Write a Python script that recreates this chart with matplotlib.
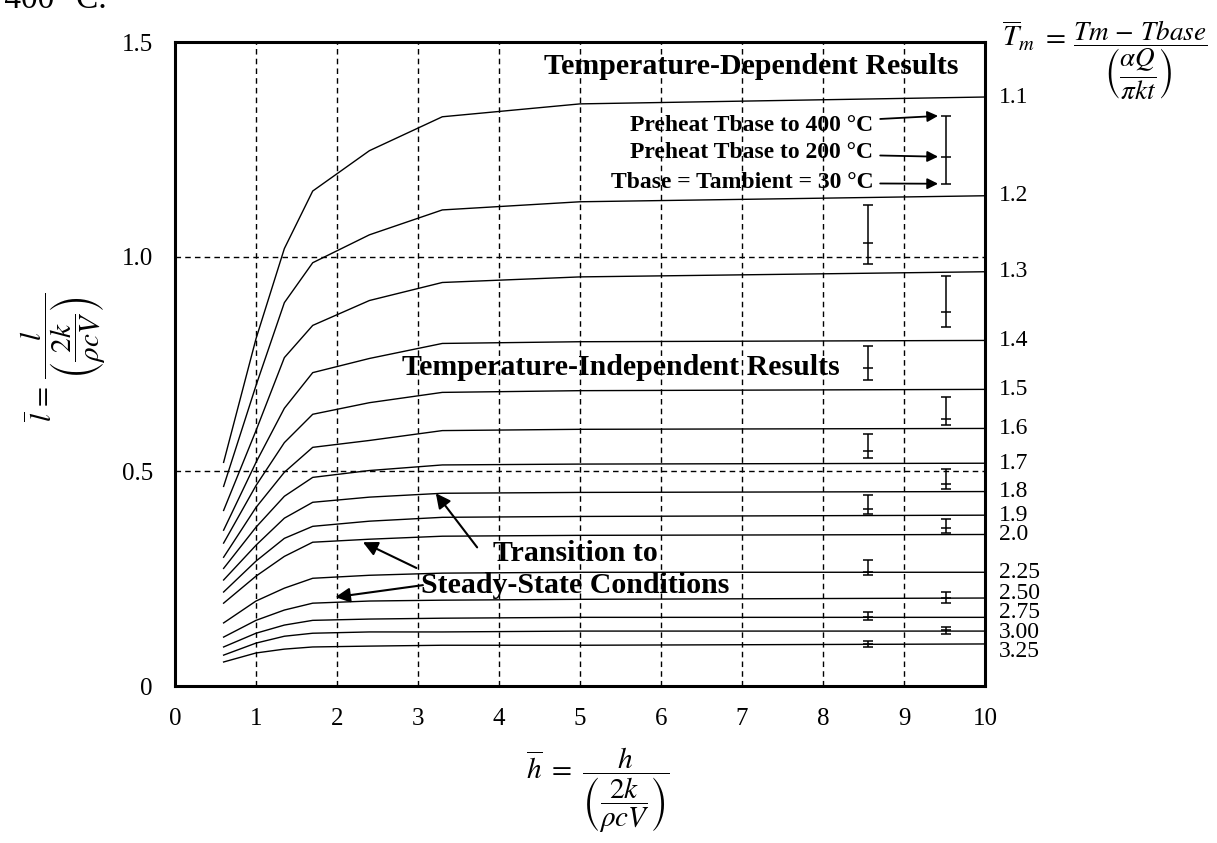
#!/usr/bin/env python3
"""Dimensionless bead length vs. dimensionless heat-transfer coefficient,
one curve per dimensionless melting temperature, with the temperature-dependent
results drawn as three-level error bars."""

import matplotlib
matplotlib.use("Agg")
import matplotlib.pyplot as plt

plt.rcParams["font.family"] = ["Liberation Serif", "DejaVu Serif"]
plt.rcParams["mathtext.fontset"] = "stix"

h_points = [0.6, 1.0, 1.35, 1.7, 2.4, 3.3, 5.0, 10.0]

# l-bar values, one list per Tm-bar curve
l_1_1 = [0.521, 0.809, 1.019, 1.153, 1.247, 1.326, 1.356, 1.372]
l_1_2 = [0.465, 0.700, 0.893, 0.986, 1.051, 1.109, 1.128, 1.142]
l_1_3 = [0.409, 0.595, 0.765, 0.840, 0.898, 0.940, 0.953, 0.965]
l_1_4 = [0.363, 0.521, 0.647, 0.730, 0.763, 0.798, 0.802, 0.805]
l_1_5 = [0.333, 0.467, 0.567, 0.633, 0.660, 0.684, 0.688, 0.691]
l_1_6 = [0.300, 0.416, 0.498, 0.556, 0.572, 0.595, 0.598, 0.600]
l_1_7 = [0.274, 0.370, 0.442, 0.486, 0.502, 0.515, 0.517, 0.519]
l_1_8 = [0.247, 0.328, 0.391, 0.428, 0.440, 0.449, 0.451, 0.453]
l_1_9 = [0.219, 0.291, 0.344, 0.372, 0.384, 0.393, 0.395, 0.398]
l_2_0 = [0.193, 0.256, 0.302, 0.335, 0.342, 0.349, 0.351, 0.353]
l_2_25 = [0.147, 0.198, 0.228, 0.251, 0.258, 0.263, 0.265, 0.265]
l_2_50 = [0.114, 0.153, 0.177, 0.193, 0.198, 0.200, 0.202, 0.205]
l_2_75 = [0.091, 0.123, 0.142, 0.153, 0.156, 0.158, 0.160, 0.160]
l_3_00 = [0.072, 0.100, 0.116, 0.123, 0.126, 0.126, 0.128, 0.128]
l_3_25 = [0.056, 0.077, 0.086, 0.091, 0.093, 0.095, 0.095, 0.098]

curves = [l_1_1, l_1_2, l_1_3, l_1_4, l_1_5, l_1_6, l_1_7, l_1_8,
          l_1_9, l_2_0, l_2_25, l_2_50, l_2_75, l_3_00, l_3_25]
tm_labels = ["1.1", "1.2", "1.3", "1.4", "1.5", "1.6", "1.7", "1.8",
             "1.9", "2.0", "2.25", "2.50", "2.75", "3.00", "3.25"]

# temperature-dependent results: 400 C (high), 200 C (mid), 30 C (low)
bar_h = [9.52, 8.55, 9.52, 8.55, 9.52, 8.55, 9.52, 8.55, 9.52, 8.55, 9.52, 8.55, 9.52, 8.55]
bar_high = [1.328, 1.121, 0.956, 0.793, 0.674, 0.588, 0.505, 0.444, 0.388, 0.293, 0.219, 0.172, 0.137, 0.105]
bar_mid = [1.233, 1.033, 0.872, 0.740, 0.623, 0.547, 0.470, 0.412, 0.367, 0.265, 0.205, 0.160, 0.130, 0.098]
bar_low = [1.170, 0.984, 0.837, 0.714, 0.607, 0.530, 0.458, 0.400, 0.356, 0.258, 0.193, 0.153, 0.121, 0.091]

x_ticks = [0, 1, 2, 3, 4, 5, 6, 7, 8, 9, 10]
y_ticks = [0, 0.5, 1.0, 1.5]
y_tick_labels = ["0", "0.5", "1.0", "1.5"]

fig = plt.figure(figsize=(12.17, 8.43), dpi=100)
ax = fig.add_axes([0.1438, 0.1862, 0.6656, 0.7639])

for vals in curves:
    ax.plot(h_points, vals, color="k", lw=1.0)

ax.errorbar(bar_h, bar_mid,
            yerr=[[m - lo for m, lo in zip(bar_mid, bar_low)],
                  [hi - m for m, hi in zip(bar_mid, bar_high)]],
            fmt="_", color="k", ms=7.5, mew=1.1, elinewidth=1.1,
            capsize=3.7, capthick=1.1, zorder=3)

ax.set_xlim(0, 10)
ax.set_ylim(0, 1.5)
ax.set_xticks(x_ticks)
ax.set_xticklabels([str(t) for t in x_ticks])
ax.set_yticks(y_ticks)
ax.set_yticklabels(y_tick_labels)
ax.tick_params(length=0, labelsize=18)
ax.tick_params(axis="x", pad=16)
ax.tick_params(axis="y", pad=16)
for s in ax.spines.values():
    s.set_linewidth(2.2)

# dashed reference grid (inner lines only)
for t in x_ticks[1:-1]:
    ax.axvline(t, color="k", lw=1.0, ls=(0, (4, 3)), zorder=1)
for t in y_ticks[1:-1]:
    ax.axhline(t, color="k", lw=1.0, ls=(0, (4, 3)), zorder=1)

# Tm-bar labels at the right end of each curve, spread apart where crowded
label_y = [vals[-1] for vals in curves]
min_gap = 0.045
for _ in range(200):
    for i in range(len(label_y) - 1):
        gap = label_y[i] - label_y[i + 1]
        if gap < min_gap:
            push = (min_gap - gap) / 2
            label_y[i] += push
            label_y[i + 1] -= push
for lab, y in zip(tm_labels, label_y):
    ax.text(10.17, y, lab, fontsize=17, ha="left", va="center", clip_on=False)

bold = dict(fontweight="bold", fontsize=21.5)
ax.text(7.11, 1.444, "Temperature-Dependent Results", ha="center", va="center", **bold)
ax.text(5.51, 0.742, "Temperature-Independent Results", ha="center", va="center", **bold)
ax.text(4.94, 0.272, "Transition to\nSteady-State Conditions", ha="center", va="center",
        multialignment="center", linespacing=1.22, **bold)

arrow = dict(arrowstyle="-|>", color="k", lw=1.5, mutation_scale=22, shrinkA=0, shrinkB=0)
ax.annotate("", xy=(3.22, 0.449), xytext=(3.73, 0.323), arrowprops=arrow)
ax.annotate("", xy=(2.32, 0.335), xytext=(2.98, 0.275), arrowprops=arrow)
ax.annotate("", xy=(1.98, 0.207), xytext=(3.06, 0.235), arrowprops=arrow)

# legend-like callouts for the three base temperatures
callouts = ["Preheat Tbase to 400 °C", "Preheat Tbase to 200 °C", "Tbase = Tambient = 30 °C"]
text_y = [1.305, 1.242, 1.172]
targets = [bar_high[0], bar_mid[0], bar_low[0]]
small_arrow = dict(arrowstyle="-|>", color="k", lw=1.3, mutation_scale=16, shrinkA=3, shrinkB=0)
for txt, ty, tgt in zip(callouts, text_y, targets):
    ax.annotate(txt, xy=(bar_h[0] - 0.1, tgt), xytext=(8.62, ty),
                ha="right", va="center", fontsize=17, fontweight="bold",
                arrowprops=small_arrow)

# axis formulas
fig.text(598 / 1217, 1 - 790 / 843,
         r"$\overline{h}\ =\ \dfrac{h}{\left(\dfrac{2k}{\rho c V}\right)}$",
         ha="center", va="center", fontsize=21)
fig.text(63 / 1217, 1 - 357 / 843,
         r"$\overline{l}\,=\,\dfrac{l}{\left(\dfrac{2k}{\rho c V}\right)}$",
         rotation=90, ha="center", va="center", fontsize=21)
fig.text(1066 / 1217, 1 - 36 / 843, r"$\overline{T}_m\ =$",
         ha="right", va="center", fontsize=21)
fig.text(1140 / 1217, 1 - 60 / 843,
         r"$\dfrac{Tm\,-\,Tbase}{\left(\dfrac{\alpha Q}{\pi k t}\right)}$",
         ha="center", va="center", fontsize=19.5)

# fragment of the surrounding page text, cut at the top edge
fig.text(107 / 1217, 1 - 8 / 843, "to 400 °C.", ha="right", va="baseline", fontsize=24)

fig.savefig("out.png", dpi=100)
